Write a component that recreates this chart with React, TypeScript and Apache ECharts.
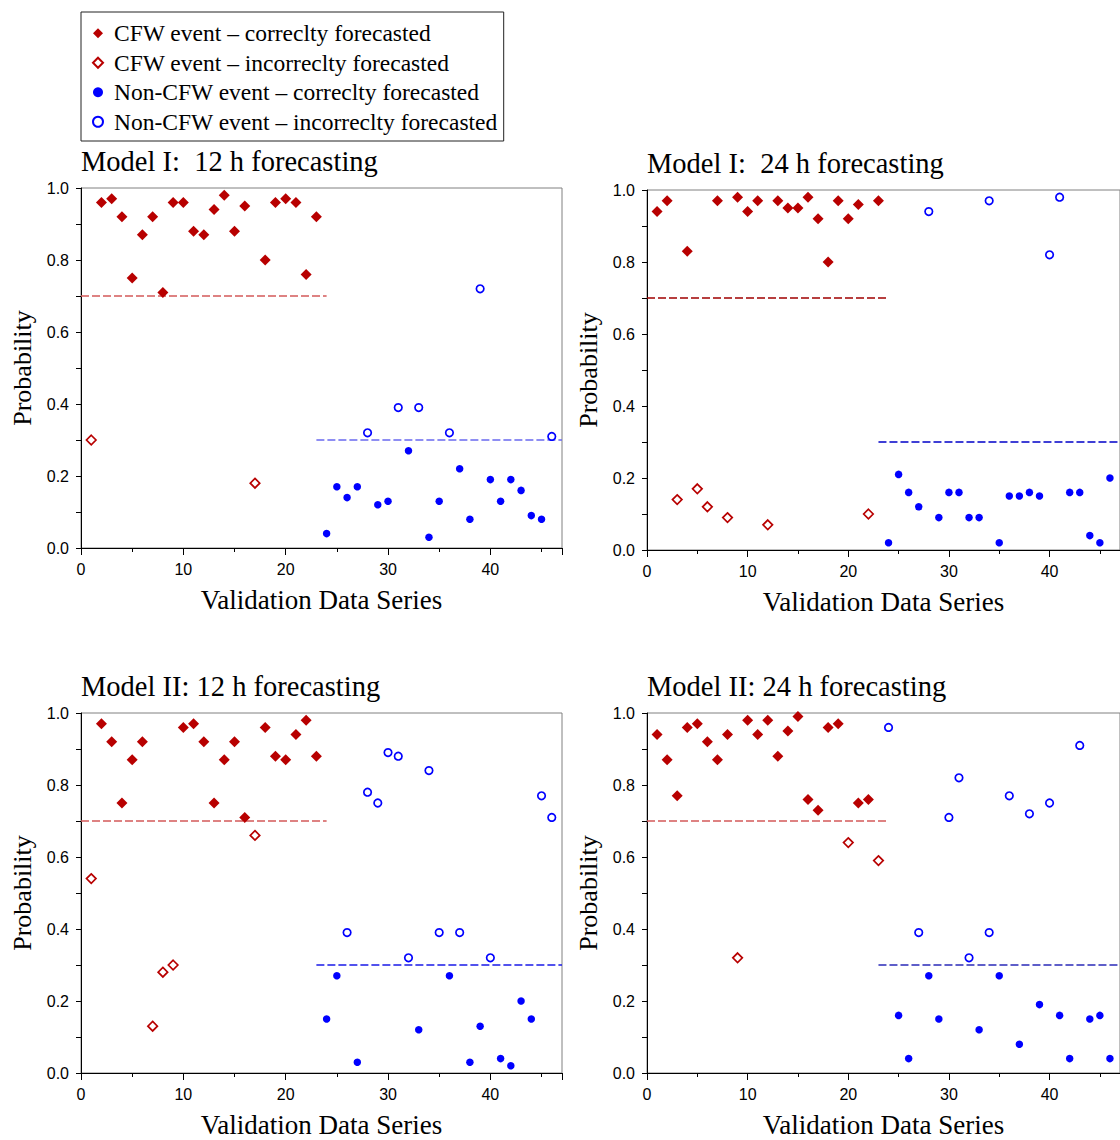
import React, { useEffect, useRef } from "react";
import * as echarts from "echarts";

// x positions: CFW events are series 1..23, non-CFW events 24..46
const cfwIndex = [1,2,3,4,5,6,7,8,9,10,11,12,13,14,15,16,17,18,19,20,21,22,23];
const nonCfwIndex = [24,25,26,27,28,29,30,31,32,33,34,35,36,37,38,39,40,41,42,43,44,45,46];

const m1h12Cfw = [0.30,0.96,0.97,0.92,0.75,0.87,0.92,0.71,0.96,0.96,0.88,0.87,0.94,0.98,0.88,0.95,0.18,0.80,0.96,0.97,0.96,0.76,0.92];
const m1h12Non = [0.04,0.17,0.14,0.17,0.32,0.12,0.13,0.39,0.27,0.39,0.03,0.13,0.32,0.22,0.08,0.72,0.19,0.13,0.19,0.16,0.09,0.08,0.31];

const m1h24Cfw = [0.94,0.97,0.14,0.83,0.17,0.12,0.97,0.09,0.98,0.94,0.97,0.07,0.97,0.95,0.95,0.98,0.92,0.80,0.97,0.92,0.96,0.10,0.97];
const m1h24Non = [0.02,0.21,0.16,0.12,0.94,0.09,0.16,0.16,0.09,0.09,0.97,0.02,0.15,0.15,0.16,0.15,0.82,0.98,0.16,0.16,0.04,0.02,0.20];

const m2h12Cfw = [0.54,0.97,0.92,0.75,0.87,0.92,0.13,0.28,0.30,0.96,0.97,0.92,0.75,0.87,0.92,0.71,0.66,0.96,0.88,0.87,0.94,0.98,0.88];
const m2h12Non = [0.15,0.27,0.39,0.03,0.78,0.75,0.89,0.88,0.32,0.12,0.84,0.39,0.27,0.39,0.03,0.13,0.32,0.04,0.02,0.20,0.15,0.77,0.71];

const m2h24Cfw = [0.94,0.87,0.77,0.96,0.97,0.92,0.87,0.94,0.32,0.98,0.94,0.98,0.88,0.95,0.99,0.76,0.73,0.96,0.97,0.64,0.75,0.76,0.59];
const m2h24Non = [0.96,0.16,0.04,0.39,0.27,0.15,0.71,0.82,0.32,0.12,0.39,0.27,0.77,0.08,0.72,0.19,0.75,0.16,0.04,0.91,0.15,0.16,0.04];

const panelTitles = [
  "Model I:  12 h forecasting",
  "Model I:  24 h forecasting",
  "Model II: 12 h forecasting",
  "Model II: 24 h forecasting",
];

const cfwThreshold = 0.7;
const cfwThresholdSpan = [0, 24];
const nonCfwThreshold = 0.3;
const nonCfwThresholdSpan = [23, 47];

const yTicks = [0, 0.2, 0.4, 0.6, 0.8, 1.0];
const xTicks = [0, 10, 20, 30, 40];

const legendNames = [
  "CFW event \u2013 correclty forecasted",
  "CFW event \u2013 incorreclty forecasted",
  "Non-CFW event \u2013 correclty forecasted",
  "Non-CFW event \u2013 incorreclty forecasted",
];

const panels = [
  { cfw: m1h12Cfw, non: m1h12Non, left: 81, top: 188, red: "#d45a5a", blue: "#6a6af0", redW: 1.6, blueW: 1.6 },
  { cfw: m1h24Cfw, non: m1h24Non, left: 647, top: 190, red: "#a00000", blue: "#0000c8", redW: 1.3, blueW: 1.3 },
  { cfw: m2h12Cfw, non: m2h12Non, left: 81, top: 713, red: "#d45a5a", blue: "#1a1ae8", redW: 1.6, blueW: 1.3 },
  { cfw: m2h24Cfw, non: m2h24Non, left: 647, top: 713, red: "#d45a5a", blue: "#2a2ab8", redW: 1.6, blueW: 1.3 },
];

const RED = "#b80000";
const BLUE = "#0000ff";
const SERIF = "Liberation Serif";
const SANS = "Liberation Sans";

export default function App() {
  const ref = useRef<HTMLDivElement>(null);
  useEffect(() => {
    document.body.style.margin = "0";
    if (!ref.current) return;
    const chart = echarts.init(ref.current, undefined, { renderer: "svg" });

    const grids: any[] = [];
    const xAxes: any[] = [];
    const yAxes: any[] = [];
    const series: any[] = [];
    const graphics: any[] = [];

    panels.forEach((p, i) => {
      grids.push({
        left: p.left, top: p.top, width: 481, height: 360,
        show: true, borderColor: "#808080", borderWidth: 1, backgroundColor: "transparent",
      });
      xAxes.push({
        type: "value", gridIndex: i, min: 0, max: 47, interval: 10,
        name: "Validation Data Series", nameLocation: "middle", nameGap: 38,
        nameTextStyle: { fontFamily: SERIF, fontSize: 27, color: "#000" },
        axisLine: { show: true, onZero: false, lineStyle: { color: "#000", width: 1 } },
        axisTick: { show: true, inside: false, length: 7, lineStyle: { color: "#000" } },
        minorTick: { show: true, splitNumber: 2, length: 4, lineStyle: { color: "#000" } },
        axisLabel: {
          fontFamily: SANS, fontSize: 16, color: "#000", margin: 13, showMaxLabel: false,
          formatter: (v: number) => (xTicks.includes(v) ? String(v) : ""),
        },
        splitLine: { show: false },
      });
      yAxes.push({
        type: "value", gridIndex: i, min: 0, max: 1, interval: 0.2,
        name: "Probability", nameLocation: "middle", nameGap: 46,
        nameTextStyle: { fontFamily: SERIF, fontSize: 26, color: "#000" },
        axisLine: { show: true, onZero: false, lineStyle: { color: "#000", width: 1 } },
        axisTick: { show: true, inside: false, length: 5, lineStyle: { color: "#000" } },
        minorTick: { show: true, splitNumber: 2, length: 5, lineStyle: { color: "#000" } },
        axisLabel: {
          fontFamily: SANS, fontSize: 16, color: "#000", margin: 12,
          formatter: (v: number) => (yTicks.some((t) => Math.abs(t - v) < 1e-6) ? v.toFixed(1) : ""),
        },
        splitLine: { show: false },
      });

      const cfwOk: number[][] = [];
      const cfwBad: number[][] = [];
      p.cfw.forEach((v, k) => (v >= cfwThreshold ? cfwOk : cfwBad).push([cfwIndex[k], v]));
      const nonOk: number[][] = [];
      const nonBad: number[][] = [];
      p.non.forEach((v, k) => (v <= nonCfwThreshold ? nonOk : nonBad).push([nonCfwIndex[k], v]));

      series.push({
        type: "line", xAxisIndex: i, yAxisIndex: i, name: "cfw-threshold-" + i,
        data: [[cfwThresholdSpan[0], cfwThreshold], [cfwThresholdSpan[1], cfwThreshold]],
        symbol: "none", silent: true, z: 1,
        lineStyle: { color: p.red, width: p.redW, type: [8, 3], opacity: 1 },
      });
      series.push({
        type: "line", xAxisIndex: i, yAxisIndex: i, name: "non-threshold-" + i,
        data: [[nonCfwThresholdSpan[0], nonCfwThreshold], [nonCfwThresholdSpan[1], nonCfwThreshold]],
        symbol: "none", silent: true, z: 1,
        lineStyle: { color: p.blue, width: p.blueW, type: [8, 3], opacity: 1 },
      });
      series.push({
        type: "scatter", xAxisIndex: i, yAxisIndex: i, name: legendNames[0],
        data: cfwOk, symbol: "diamond", symbolSize: 11, z: 3,
        itemStyle: { color: RED, opacity: 1 },
      });
      series.push({
        type: "scatter", xAxisIndex: i, yAxisIndex: i, name: legendNames[1],
        data: cfwBad, symbol: "diamond", symbolSize: 9.5, z: 3,
        itemStyle: { color: "#ffffff", borderColor: RED, borderWidth: 1.7, opacity: 1 },
      });
      series.push({
        type: "scatter", xAxisIndex: i, yAxisIndex: i, name: legendNames[2],
        data: nonOk, symbol: "circle", symbolSize: 7.5, z: 3,
        itemStyle: { color: BLUE, opacity: 1 },
      });
      series.push({
        type: "scatter", xAxisIndex: i, yAxisIndex: i, name: legendNames[3],
        data: nonBad, symbol: "circle", symbolSize: 7.5, z: 3,
        itemStyle: { color: "#ffffff", borderColor: BLUE, borderWidth: 1.7, opacity: 1 },
      });

      graphics.push({
        type: "text", left: p.left, top: p.top - 41,
        style: { text: panelTitles[i], font: `28.5px "${SERIF}"`, fill: "#000" },
      });
    });

    chart.setOption({
      animation: false,
      backgroundColor: "#ffffff",
      grid: grids,
      xAxis: xAxes,
      yAxis: yAxes,
      series,
      graphic: graphics,
      legend: {
        left: 81, top: 12, orient: "vertical",
        itemWidth: 10, itemHeight: 10, itemGap: 3,
        padding: [8, 6, 6, 11],
        borderColor: "#222", borderWidth: 1,
        selectedMode: false,
        textStyle: { fontFamily: SERIF, fontSize: 23.5, color: "#000", lineHeight: 26.5, padding: [0, 0, 0, 6] },
        data: [
          { name: legendNames[0], icon: "diamond" },
          { name: legendNames[1], icon: "diamond" },
          { name: legendNames[2], icon: "circle" },
          { name: legendNames[3], icon: "circle" },
        ],
      },
    });
    return () => chart.dispose();
  }, []);
  return <div ref={ref} style={{ width: 1120, height: 1140 }} />;
}
